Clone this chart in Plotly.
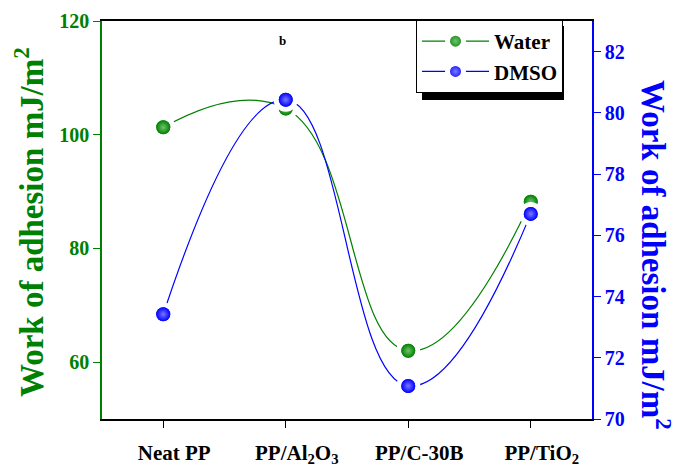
import plotly.graph_objects as go

categories = ["Neat PP", "PP/Al<sub>2</sub>O<sub>3</sub>", "PP/C-30B", "PP/TiO<sub>2</sub>"]
water = [101.3, 104.6, 62.0, 88.2]
dmso = [73.42, 80.43, 71.08, 76.7]

GREEN = "#008000"
BLUE = "#0000FF"
FONT = "Liberation Serif"

# page body has an 8px margin; size the figure so the plot lands where the reference has it
OFF = 8
W, H = 680 - OFF, 468 - OFF
L, R, T, B = 102 - OFF, 88, 21 - OFF, 49
pw, ph = W - L - R, H - T - B

def px_x(px):
    return (px - OFF - L) / pw

def px_y(py):
    return (H - B - (py - OFF)) / ph

xpos = list(range(len(categories)))

fig = go.Figure()

fig.add_trace(go.Scatter(
    x=xpos, y=water, name="Water", mode="lines+markers",
    line=dict(color=GREEN, width=1.2, shape="spline", smoothing=1.3),
    marker=dict(size=19, color=GREEN, line=dict(color="white", width=5),
                gradient=dict(type="radial", color="#6fc46f")),
    yaxis="y",
))
fig.add_trace(go.Scatter(
    x=xpos, y=dmso, name="DMSO", mode="lines+markers",
    line=dict(color=BLUE, width=1.2, shape="spline", smoothing=1.3),
    marker=dict(size=19, color=BLUE, line=dict(color="white", width=5),
                gradient=dict(type="radial", color="#7878ff")),
    yaxis="y2",
))
fig.add_trace(go.Scatter(
    x=xpos, y=water, mode="markers", showlegend=False,
    marker=dict(size=14, color=GREEN, line=dict(width=0),
                gradient=dict(type="radial", color="#6fc46f")),
    yaxis="y", hoverinfo="skip",
))
fig.add_trace(go.Scatter(
    x=xpos, y=dmso, mode="markers", showlegend=False,
    marker=dict(size=14, color=BLUE, line=dict(width=0),
                gradient=dict(type="radial", color="#7878ff")),
    yaxis="y2", hoverinfo="skip",
))

fig.update_layout(
    width=W, height=H,
    margin=dict(l=L, r=R, t=T, b=B, pad=0, autoexpand=False),
    paper_bgcolor="white", plot_bgcolor="white",
    showlegend=True,
    xaxis=dict(
        range=[-0.5, 3.5], tickvals=xpos, ticktext=categories,
        showgrid=False, zeroline=False, automargin=False,
        showline=True, linecolor="black", linewidth=1.5, mirror=True,
        ticks="outside", ticklen=7, tickwidth=1.3, tickcolor="black",
        tickfont=dict(family=FONT, size=21, color="black", weight="bold"),
        ticklabelstandoff=7, ticklabelshift=11,
    ),
    yaxis=dict(
        range=[50, 120], tick0=60, dtick=20,
        showgrid=False, zeroline=False, automargin=False,
        showline=True, linecolor=GREEN, linewidth=1.5,
        ticks="outside", ticklen=7, tickwidth=1.3, tickcolor=GREEN,
        tickfont=dict(family=FONT, size=20, color=GREEN, weight="bold"),
    ),
    yaxis2=dict(
        range=[70, 83], tick0=70, dtick=2, overlaying="y", side="right",
        showgrid=False, zeroline=False, automargin=False,
        showline=True, linecolor=BLUE, linewidth=1.5,
        ticks="outside", ticklen=7, tickwidth=1.3, tickcolor=BLUE,
        tickfont=dict(family=FONT, size=20, color=BLUE, weight="bold"),
    ),
    legend=dict(
        x=px_x(416), y=px_y(20), xanchor="left", yanchor="top",
        bgcolor="white", bordercolor="black", borderwidth=1,
        font=dict(family=FONT, size=21, color="black", weight="bold"),
        itemwidth=67, tracegroupgap=2,
    ),
    shapes=[dict(
        type="rect", xref="paper", yref="paper", layer="above",
        x0=px_x(422), x1=px_x(564), y0=px_y(100), y1=px_y(26),
        fillcolor="black", line=dict(width=0),
    )],
    annotations=[
        dict(text="b", x=px_x(282), y=px_y(31), xref="paper", yref="paper",
             showarrow=False, font=dict(family=FONT, size=13, color="black", weight="bold")),
        dict(text="Work of adhesion mJ/m<sup>2</sup>", x=px_x(6), y=px_y(222),
             xref="paper", yref="paper", showarrow=False, textangle=-90,
             font=dict(family=FONT, size=33, color=GREEN, weight="bold")),
        dict(text="Work of adhesion mJ/m<sup>2</sup>", x=px_x(679), y=px_y(255),
             xref="paper", yref="paper", showarrow=False, textangle=90,
             font=dict(family=FONT, size=33, color=BLUE, weight="bold")),
    ],
)

fig.write_html("out.html")
